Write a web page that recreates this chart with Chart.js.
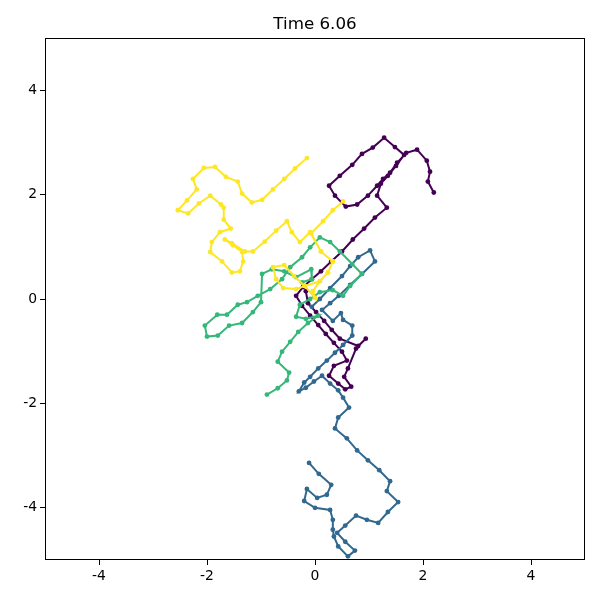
<!DOCTYPE html>
<html>
<head>
<meta charset="utf-8">
<script src="https://cdn.jsdelivr.net/npm/chart.js@4"></script>
<style>
  html, body { margin: 0; padding: 0; background: #fff; }
</style>
</head>
<body>
<canvas id="chart" width="600" height="600"></canvas>
<script>
const titleText = 'Time 6.06';
const tickValues = [-4, -2, 0, 2, 4];

// walk 1 (purple)
const purpleX = [2.20, 2.09, 2.13, 2.07, 1.89, 1.69, 1.52, 1.39, 1.26, 1.15, 0.98, 0.78, 0.57, 0.37, 0.26, 0.46, 0.69, 0.87, 1.07, 1.28,
  1.48, 1.65, 1.50, 1.35, 1.22, 1.15, 1.33, 1.11, 0.91, 0.70, 0.50, 0.30, 0.11, -0.06, -0.22, -0.35, -0.24, -0.09, 0.06, 0.20,
  0.35, 0.50, 0.59, 0.35, 0.26, 0.43, 0.56, 0.67, 0.54, 0.61, 0.76, 0.94, 0.80, 0.46, 0.31, 0.17, 0.02, -0.13, -0.17];
const purpleY = [2.04, 2.25, 2.44, 2.65, 2.86, 2.80, 2.61, 2.42, 2.30, 2.17, 1.98, 1.81, 1.77, 1.98, 2.17, 2.36, 2.57, 2.78, 2.90, 3.09,
  2.91, 2.76, 2.55, 2.36, 2.21, 1.98, 1.75, 1.56, 1.35, 1.14, 0.91, 0.72, 0.53, 0.38, 0.23, 0.06, -0.13, -0.32, -0.50, -0.67,
  -0.84, -1.01, -1.18, -1.28, -1.47, -1.62, -1.73, -1.68, -1.49, -1.33, -0.95, -0.76, -0.90, -0.76, -0.59, -0.42, -0.25, -0.08, 0.15];

// walk 2 (blue)
const blueX = [-0.11, 0.07, 0.30, 0.22, 0.04, -0.15, -0.20, 0.00, 0.28, 0.33, 0.33, 0.35, 0.43, 0.61, 0.74, 0.56, 0.41, 0.56, 0.76, 0.96,
  1.17, 1.35, 1.54, 1.33, 1.39, 1.19, 0.98, 0.78, 0.59, 0.37, 0.43, 0.63, 0.52, 0.43, 0.28, 0.13, -0.02, -0.17, -0.30, -0.20,
  -0.09, 0.06, 0.22, 0.37, 0.52, 0.69, 0.69, 0.52, 0.48, 0.33, 0.13, 0.28, 0.44, 0.65, 0.87, 1.11, 1.02, 0.80, 0.65, 0.50,
  0.28, 0.09, -0.06];
const blueY = [-3.14, -3.35, -3.56, -3.75, -3.81, -3.64, -3.87, -4.00, -4.04, -4.23, -4.42, -4.55, -4.74, -4.93, -4.82, -4.65, -4.48, -4.34, -4.15, -4.23,
  -4.29, -4.08, -3.89, -3.68, -3.49, -3.28, -3.09, -2.90, -2.67, -2.48, -2.27, -2.08, -1.89, -1.75, -1.62, -1.47, -1.58, -1.70, -1.77, -1.60,
  -1.49, -1.33, -1.18, -1.03, -0.88, -0.70, -0.51, -0.40, -0.27, -0.42, -0.21, -0.08, 0.06, 0.27, 0.48, 0.72, 0.93, 0.80, 0.63, 0.44,
  0.21, 0.00, -0.15];

// walk 3 (green)
const greenX = [-0.89, -0.69, -0.52, -0.48, -0.69, -0.61, -0.46, -0.31, -0.13, 0.06, -0.17, -0.35, -0.28, -0.09, 0.09, 0.33, 0.52, 0.65, 0.87, 0.69,
  0.46, 0.28, 0.09, -0.09, -0.24, -0.46, -0.61, -0.83, -1.06, -1.26, -1.43, -1.63, -1.81, -2.04, -2.00, -1.80, -1.59, -1.35, -1.15, -1.00,
  -0.98, -0.80, -0.57, -0.35, -0.07, -0.06, -0.24];
const greenY = [-1.83, -1.71, -1.56, -1.41, -1.20, -1.01, -0.82, -0.63, -0.46, -0.32, -0.38, -0.34, -0.11, 0.00, 0.13, 0.17, 0.06, 0.25, 0.48, 0.67,
  0.91, 1.09, 1.18, 0.99, 0.80, 0.61, 0.38, 0.19, 0.06, -0.06, -0.11, -0.30, -0.30, -0.51, -0.72, -0.70, -0.51, -0.46, -0.25, -0.06,
  0.48, 0.57, 0.53, 0.42, 0.57, 0.38, 0.32];

// walk 4 (yellow)
const yellowX = [-0.15, -0.37, -0.57, -0.78, -0.98, -1.17, -1.35, -1.43, -1.65, -1.85, -2.06, -2.26, -2.19, -2.37, -2.54, -2.35, -2.15, -1.94, -1.74, -1.69,
  -1.69, -1.56, -1.76, -1.91, -1.94, -1.72, -1.54, -1.39, -1.33, -1.35, -1.52, -1.67, -1.54, -1.30, -1.15, -0.93, -0.72, -0.52, -0.43, -0.28,
  -0.09, 0.11, 0.33, 0.24, 0.09, -0.04, 0.00, -0.19, -0.39, -0.57, -0.78, -0.72, -0.59, -0.35, -0.19, 0.09, 0.24, 0.33, 0.11, -0.07,
  0.15, 0.33, 0.52];
const yellowY = [2.70, 2.50, 2.30, 2.10, 1.90, 1.85, 2.02, 2.25, 2.34, 2.53, 2.51, 2.30, 2.10, 1.89, 1.70, 1.64, 1.83, 1.98, 1.81, 1.75,
  1.52, 1.35, 1.28, 1.09, 0.90, 0.72, 0.51, 0.53, 0.72, 0.90, 1.03, 1.14, 1.07, 0.91, 0.91, 1.10, 1.31, 1.49, 1.28, 1.09,
  1.28, 0.91, 0.72, 0.51, 0.34, 0.15, 0.02, 0.25, 0.44, 0.65, 0.61, 0.38, 0.21, 0.19, 0.25, 0.34, 0.51, 0.72, 0.91, 1.26,
  1.49, 1.70, 1.87];

function toPoints(xs, ys) {
  return xs.map((x, i) => ({ x: x, y: ys[i] }));
}

function walk(xs, ys, color) {
  return {
    data: toPoints(xs, ys),
    showLine: true,
    borderColor: color,
    backgroundColor: color,
    pointBackgroundColor: color,
    pointBorderColor: color,
    borderWidth: 2,
    pointRadius: 2.4,
    pointBorderWidth: 0,
    tension: 0,
  };
}

// box round the plot area and the title, as matplotlib draws them
const frame = {
  id: 'frame',
  afterDraw(chart) {
    const { ctx, chartArea: a } = chart;
    ctx.save();
    ctx.strokeStyle = '#000';
    ctx.lineWidth = 1;
    ctx.strokeRect(a.left + 0.5, a.top + 0.5, a.right - a.left - 1, a.bottom - a.top - 1);
    ctx.fillStyle = '#000';
    ctx.font = '16.7px "DejaVu Sans"';
    ctx.textAlign = 'center';
    ctx.textBaseline = 'alphabetic';
    ctx.fillText(titleText, (a.left + a.right) / 2, a.top - 9);
    ctx.restore();
  },
};

const axis = (fit) => ({
  type: 'linear',
  min: -5,
  max: 5,
  afterBuildTicks: (scale) => {
    scale.ticks = tickValues.map((v) => ({ value: v }));
  },
  afterFit: fit,
  ticks: {
    color: '#000',
    font: { family: 'DejaVu Sans', size: 13.9 },
    padding: 3,
    maxRotation: 0,
    autoSkip: false,
  },
  grid: {
    display: true,
    drawOnChartArea: false,
    drawTicks: true,
    tickLength: 5,
    color: '#000',
  },
  border: { display: false },
});

new Chart(document.getElementById('chart'), {
  type: 'scatter',
  data: {
    datasets: [
      walk(yellowX, yellowY, '#fde725'),
      walk(greenX, greenY, '#35b779'),
      walk(blueX, blueY, '#31688e'),
      walk(purpleX, purpleY, '#440154'),
    ],
  },
  options: {
    responsive: false,
    animation: false,
    layout: { padding: { left: 0, right: 15, top: 38, bottom: 0 } },
    plugins: {
      legend: { display: false },
      title: { display: false },
      tooltip: { enabled: false },
    },
    scales: {
      x: axis((scale) => { scale.height = 40; }),
      y: axis((scale) => { scale.width = 45; }),
    },
  },
  plugins: [frame],
});
</script>
</body>
</html>
